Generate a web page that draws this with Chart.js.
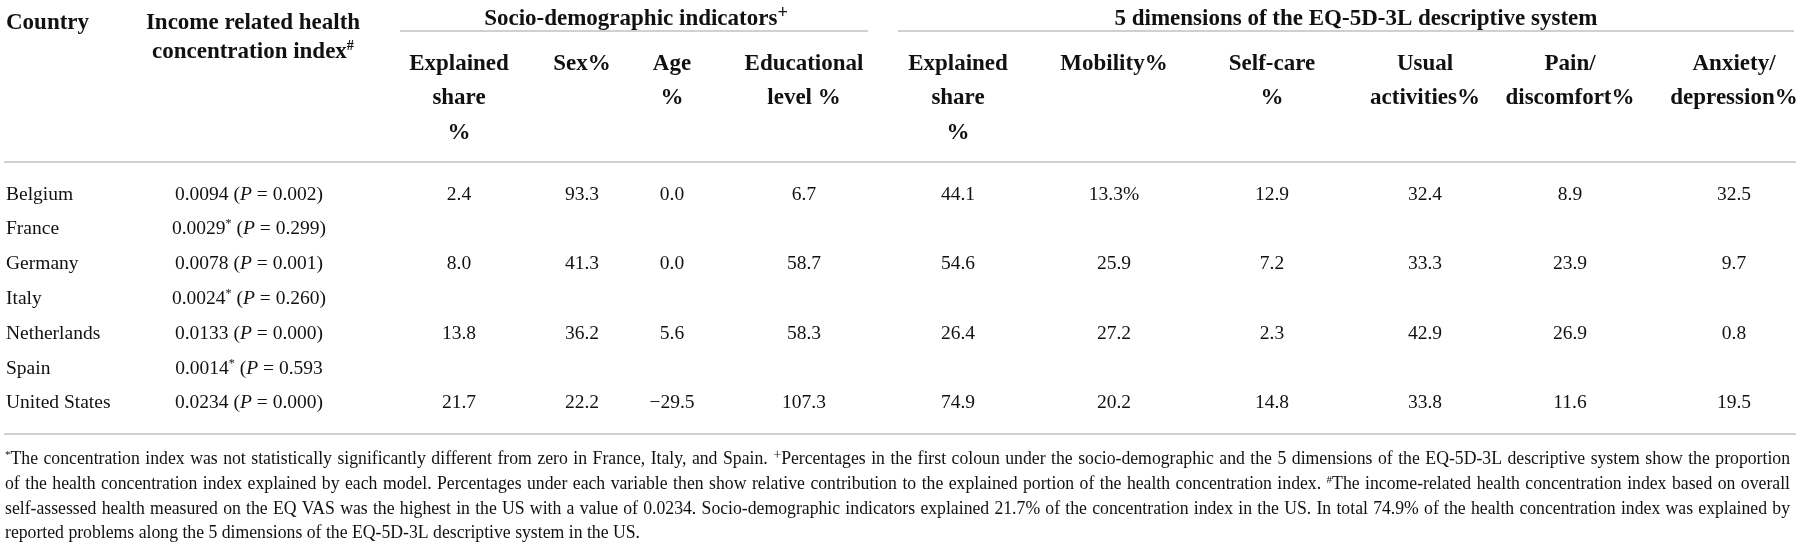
<!DOCTYPE html>
<html>
<head>
<meta charset="utf-8">
<script src="https://cdn.jsdelivr.net/npm/chart.js@4.4.1/dist/chart.umd.min.js"></script>
<style>
  html, body { margin: 0; padding: 0; background: #fff; overflow: hidden; }
  canvas { display: block; }
</style>
</head>
<body>
<canvas id="table" width="1803" height="546"></canvas>
<script>
// ---- table data ----
const countries = ['Belgium', 'France', 'Germany', 'Italy', 'Netherlands', 'Spain', 'United States'];
const concIndex = ['0.0094', '0.0029^*', '0.0078', '0.0024^*', '0.0133', '0.0014^*', '0.0234'];
const pValues = ['0.002)', '0.299)', '0.001)', '0.260)', '0.000)', '0.593', '0.000)'];

const socioExplained = [2.4, null, 8.0, null, 13.8, null, 21.7];
const sexShare = [93.3, null, 41.3, null, 36.2, null, 22.2];
const ageShare = [0.0, null, 0.0, null, 5.6, null, -29.5];
const educationShare = [6.7, null, 58.7, null, 58.3, null, 107.3];
const eqExplained = [44.1, null, 54.6, null, 26.4, null, 74.9];
const mobilityShare = ['13.3%', null, '25.9', null, '27.2', null, '20.2'];
const selfCareShare = [12.9, null, 7.2, null, 2.3, null, 14.8];
const usualShare = [32.4, null, 33.3, null, 42.9, null, 33.8];
const painShare = [8.9, null, 23.9, null, 26.9, null, 11.6];
const anxietyShare = [32.5, null, 9.7, null, 0.8, null, 19.5];

const groupTitles = ['Socio-demographic indicators^+', '5 dimensions of the EQ-5D-3L descriptive system'];
const firstHeaders = [['Country'], ['Income related health', 'concentration index^#']];
const columnHeaders = [
  ['Explained', 'share', '%'], ['Sex%'], ['Age', '%'], ['Educational', 'level %'],
  ['Explained', 'share', '%'], ['Mobility%'], ['Self-care', '%'], ['Usual', 'activities%'],
  ['Pain/', 'discomfort%'], ['Anxiety/', 'depression%']
];
const footnotes = [
  '^*The concentration index was not statistically significantly different from zero in France, Italy, and Spain. ^+Percentages in the first coloun under the socio-demographic and the 5 dimensions of the EQ-5D-3L descriptive system show the proportion',
  'of the health concentration index explained by each model. Percentages under each variable then show relative contribution to the explained portion of the health concentration index. ^#The income-related health concentration index based on overall',
  'self-assessed health measured on the EQ VAS was the highest in the US with a value of 0.0234. Socio-demographic indicators explained 21.7% of the concentration index in the US. In total 74.9% of the health concentration index was explained by',
  'reported problems along the 5 dimensions of the EQ-5D-3L descriptive system in the US.'
];

// ---- layout (pixel units of the linear scales) ----
const FONT = '"Liberation Serif", "Times New Roman", serif';
const countryX = 6;
const incomeX = 249;
const valueColX = [459, 582, 672, 804, 958, 1114, 1272, 1425, 1570, 1734];
const groupSpan = [[400, 868], [898, 1794]];
const groupTextX = [636, 1356];
const rowY = countries.map((c, i) => 193 + 34.8 * i);
const headTopY = [21, 50];
const groupY = 17, groupRuleY = 31;
const subHeadY = [62, 96.5, 131];
const headRuleY = 162, bottomRuleY = 434;
const footY = [458, 483, 508, 532];
const footLeft = 5, footRight = 1790, footEnd = 640;
const headSize = 23, bodySize = 19.5, footSize = 18;

const valueColumns = [socioExplained, sexShare, ageShare, educationShare, eqExplained,
  mobilityShare, selfCareShare, usualShare, painShare, anxietyShare];

function fmt(v) {
  if (typeof v === 'string') return v;
  return v < 0 ? '\u2212' + Math.abs(v).toFixed(1) : v.toFixed(1);
}

// ---- rich text helpers: ^x = superscript char, _..._ = italic ----
const supScale = { '+': 0.8, '*': 0.62, '#': 0.62 };
const supRaise = { '+': 0.3, '*': 0.36, '#': 0.36 };
function parseRich(s) {
  const runs = []; let cur = ''; let italic = false;
  for (let i = 0; i < s.length; i++) {
    const ch = s[i];
    if (ch === '^') {
      if (cur) runs.push({ t: cur, i: italic });
      cur = '';
      runs.push({ t: s[i + 1], i: italic, sup: true });
      i++;
    } else if (ch === '_') {
      if (cur) runs.push({ t: cur, i: italic });
      cur = '';
      italic = !italic;
    } else cur += ch;
  }
  if (cur) runs.push({ t: cur, i: italic });
  return runs;
}
function fontFor(run, size, bold) {
  const s = run.sup ? size * (supScale[run.t] || 0.62) : size;
  return (run.i ? 'italic ' : '') + (bold ? 'bold ' : '') + s.toFixed(1) + 'px ' + FONT;
}
function richWidth(ctx, runs, size, bold) {
  let w = 0;
  runs.forEach(r => { ctx.font = fontFor(r, size, bold); w += ctx.measureText(r.t).width; });
  return w;
}
function drawRuns(ctx, runs, x, baseY, size, bold) {
  runs.forEach(r => {
    ctx.font = fontFor(r, size, bold);
    ctx.fillText(r.t, x, r.sup ? baseY - size * (supRaise[r.t] || 0.36) : baseY);
    x += ctx.measureText(r.t).width;
  });
}
function drawRich(ctx, str, x, y, size, bold, align) {
  const runs = parseRich(str);
  const w = richWidth(ctx, runs, size, bold);
  const sx = align === 'center' ? x - w / 2 : align === 'right' ? x - w : x;
  drawRuns(ctx, runs, sx, y + size * 0.34, size, bold);
}

// ---- datasets: one per column, one point per cell ----
const datasets = [];
datasets.push({ label: 'Country', align: 'left',
  data: countries.map((c, i) => ({ x: countryX, y: rowY[i], text: c })) });
datasets.push({ label: 'Income', align: 'center',
  data: countries.map((c, i) => ({ x: incomeX, y: rowY[i], text: concIndex[i] + ' (_P_ = ' + pValues[i] })) });
valueColumns.forEach((col, j) => {
  const pts = [];
  col.forEach((v, i) => { if (v !== null) pts.push({ x: valueColX[j], y: rowY[i], text: fmt(v) }); });
  datasets.push({ label: 'col' + j, align: 'center', data: pts });
});
datasets.forEach(d => { d.pointRadius = 0; d.pointHoverRadius = 0; d.showLine = false; });

const tablePlugin = {
  id: 'tableText',
  afterDatasetsDraw(chart) {
    const ctx = chart.ctx;
    const sx = chart.scales.x, sy = chart.scales.y;
    const px = v => sx.getPixelForValue(v), py = v => sy.getPixelForValue(v);
    ctx.save();
    ctx.fillStyle = '#111';
    ctx.textBaseline = 'alphabetic';
    ctx.textAlign = 'left';

    // rules
    ctx.strokeStyle = '#d0d0d0';
    ctx.lineWidth = 2.2;
    const hline = (x0, x1, y) => { ctx.beginPath(); ctx.moveTo(px(x0), py(y)); ctx.lineTo(px(x1), py(y)); ctx.stroke(); };
    groupSpan.forEach(s => hline(s[0], s[1], groupRuleY));
    hline(4, 1796, headRuleY);
    hline(4, 1796, bottomRuleY);

    // header
    drawRich(ctx, firstHeaders[0][0], px(countryX), py(headTopY[0]), headSize, true, 'left');
    firstHeaders[1].forEach((t, k) => drawRich(ctx, t, px(incomeX + 4), py(headTopY[k]), headSize, true, 'center'));
    groupTitles.forEach((t, g) => drawRich(ctx, t, px(groupTextX[g]), py(groupY), headSize, true, 'center'));
    columnHeaders.forEach((lines, j) => lines.forEach((t, k) =>
      drawRich(ctx, t, px(valueColX[j]), py(subHeadY[k]), headSize, true, 'center')));

    // cells
    chart.data.datasets.forEach((ds, i) => {
      const meta = chart.getDatasetMeta(i);
      meta.data.forEach((el, j) => {
        drawRich(ctx, ds.data[j].text, el.x, el.y, bodySize, false, ds.align);
      });
    });

    // footnotes: condensed, justified
    const lines = footnotes.map(l => l.split(' ').map(parseRich));
    ctx.font = 'normal ' + footSize + 'px ' + FONT;
    const space = ctx.measureText(' ').width;
    const natural = ws => ws.reduce((a, w) => a + richWidth(ctx, w, footSize, false), 0);
    const last = lines[lines.length - 1];
    const k = (footEnd - footLeft) / (natural(last) + space * (last.length - 1));
    lines.forEach((words, li) => {
      const nat = natural(words);
      const gap = li < lines.length - 1 ? ((footRight - footLeft) / k - nat) / (words.length - 1) : space;
      ctx.save();
      ctx.translate(px(footLeft), py(footY[li]) + footSize * 0.34);
      ctx.scale(k, 1);
      let x = 0;
      words.forEach(w => {
        drawRuns(ctx, w, x, 0, footSize, false);
        x += richWidth(ctx, w, footSize, false) + gap;
      });
      ctx.restore();
    });
    ctx.restore();
  }
};

new Chart(document.getElementById('table'), {
  type: 'scatter',
  data: { datasets },
  options: {
    responsive: false,
    animation: false,
    devicePixelRatio: 1,
    events: [],
    layout: { padding: 0 },
    plugins: { legend: { display: false }, tooltip: { enabled: false } },
    scales: {
      x: { type: 'linear', min: 0, max: 1803, display: false },
      y: { type: 'linear', min: 0, max: 546, reverse: true, display: false }
    }
  },
  plugins: [tablePlugin]
});
</script>
</body>
</html>
